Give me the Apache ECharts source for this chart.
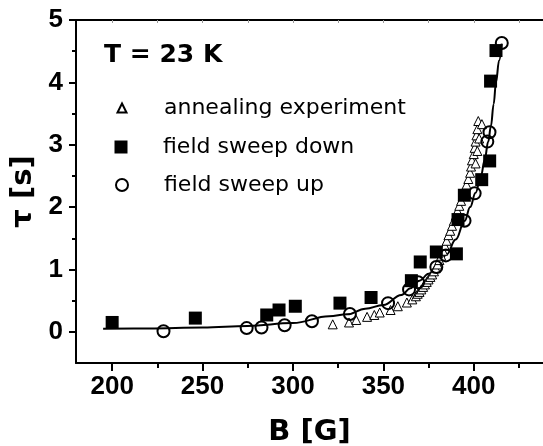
<!DOCTYPE html>
<html>
<head>
<meta charset="utf-8">
<script src="https://cdn.jsdelivr.net/npm/echarts@6/dist/echarts.min.js"></script>
<style>html,body{margin:0;padding:0;background:#fff;}#c{width:543px;height:446px;}</style>
</head>
<body>
<div id="c"></div>
<script>
// ---- data ----
const annB   = [322,331,335,341,345,348,354,358,363,366,368,369,370,371,372,373,374,375,376,377,378,379,380,381,382,383,384,385,386,387,388,389,390,391,392,393,394,395,396,397,398,398.5,399,400,400.5,401,401.5,402,402.5,404.5,403,402,401];
const annTau = [0.12,0.15,0.19,0.24,0.27,0.31,0.35,0.41,0.47,0.52,0.57,0.61,0.64,0.68,0.72,0.76,0.80,0.84,0.88,0.92,0.97,1.02,1.08,1.15,1.22,1.30,1.38,1.46,1.55,1.62,1.70,1.78,1.86,1.94,2.02,2.10,2.18,2.27,2.36,2.45,2.55,2.65,2.75,2.85,2.95,3.05,3.15,3.25,3.38,3.33,3.10,2.90,2.70];
const downB   = [200,246,285.5,292.3,301.3,326,343.2,365.5,370.4,379.3,390.4,391.3,394.8,404.4,408.8,409.3,412.3];
const downTau = [0.15,0.22,0.27,0.35,0.41,0.46,0.55,0.82,1.12,1.28,1.25,1.80,2.19,2.44,2.74,4.02,4.51];
const upB   = [228.4,274.4,282.6,295.4,310.5,331.5,352.6,364.2,369.2,379.3,384.6,394.9,400.5,407.5,408.7,415.5];
const upTau = [0.01,0.06,0.07,0.105,0.17,0.285,0.46,0.68,0.795,1.04,1.225,1.78,2.22,3.05,3.2,4.63];
const fitB   = [195,220,250,275,300,320,330,340,350,360,365,370,375,380,385,390,395,398,401,404,406,408,409.5,411,412.3,414,415.5];
const fitTau = [0.05,0.055,0.07,0.095,0.14,0.25,0.28,0.37,0.43,0.59,0.70,0.82,0.93,1.07,1.24,1.48,1.78,2.0,2.23,2.5,2.75,3.05,3.3,3.65,4.0,4.35,4.62];
const xMajor = [200,250,300,350,400];
const xLabels = [200,250,300,350,400];
const xMinor = [225,275,325,375,425];
const xTop = [200,225,250,275,300,325,350,375,400,425];
const yMajor = [0,1,2,3,4,5];
const yMinor = [0.5,1.5,2.5,3.5,4.5];
const names = ['annealing experiment','field sweep down','field sweep up'];
const xMin = 180, xMax = 438.3, yMin = -0.5, yMax = 5;

const zip = (a,b) => a.map((v,i)=>[v,b[i]]);
const tickFont = {fontFamily:'Liberation Sans', fontWeight:'bold', fontSize:26, color:'#000'};
const nameFont = {fontFamily:'DejaVu Sans', fontWeight:'bold', fontSize:29, color:'#000'};
const legText = {fontFamily:'DejaVu Sans', fontSize:22, color:'#000'};

function legendAt(name, size, top, left, pad){
  return {data:[name], orient:'vertical', left:left, top:top, itemWidth:size, itemHeight:size,
    selectedMode:false, padding:0, textStyle:Object.assign({}, legText, {padding:[0,0,0,pad]})};
}

const chart = echarts.init(document.getElementById('c'), null, {renderer:'canvas'});
chart.setOption({
  animation:false,
  backgroundColor:'#fff',
  title:{text:'T = 23 K', left:104, top:43, padding:0,
    textStyle:{fontFamily:'DejaVu Sans', fontWeight:'bold', fontSize:25, color:'#000'}},
  legend:[
    legendAt(names[0], 9, 97, 116.5, 32.5),
    legendAt(names[1], 13, 136, 114.5, 30.5),
    legendAt(names[2], 12, 174, 115, 31)
  ],
  grid:{left:76, top:20, right:0, height:343, containLabel:false, outerBoundsMode:'none'},
  xAxis:[
    {type:'value', min:xMin, max:xMax, position:'bottom',
     name:'B [G]', nameLocation:'middle', nameGap:55, nameTextStyle:nameFont,
     axisLine:{show:true, onZero:false, lineStyle:{color:'#000', width:2}},
     axisTick:{show:true, customValues:xMajor, length:8, lineStyle:{color:'#000', width:2}},
     axisLabel:{customValues:xLabels, margin:11, ...tickFont},
     splitLine:{show:false}},
    {type:'value', min:xMin, max:xMax, position:'bottom',
     axisLine:{show:false, onZero:false}, axisLabel:{show:false}, splitLine:{show:false},
     axisTick:{show:true, customValues:xMinor, length:5, lineStyle:{color:'#000', width:2}}},
    {type:'value', min:xMin, max:xMax, position:'top',
     axisLine:{show:true, onZero:false, lineStyle:{color:'#000', width:2}}, axisLabel:{show:false}, splitLine:{show:false},
     axisTick:{show:true, inside:true, customValues:xTop, length:3, lineStyle:{color:'#999', width:1}}}
  ],
  yAxis:[
    {type:'value', min:yMin, max:yMax, position:'left',
     name:'τ [s]', nameLocation:'middle', nameGap:36, nameRotate:90, nameTextStyle:nameFont,
     axisLine:{show:true, onZero:false, lineStyle:{color:'#000', width:2}},
     axisTick:{show:true, customValues:yMajor, length:7, lineStyle:{color:'#000', width:2}},
     axisLabel:{customValues:yMajor, margin:13, ...tickFont},
     splitLine:{show:false}},
    {type:'value', min:yMin, max:yMax, position:'left',
     axisLine:{show:false, onZero:false}, axisLabel:{show:false}, splitLine:{show:false},
     axisTick:{show:true, customValues:yMinor, length:4, lineStyle:{color:'#000', width:2}}}
  ],
  series:[
    {name:names[0], type:'scatter', xAxisIndex:0, yAxisIndex:0, data:zip(annB, annTau),
     symbol:'triangle', symbolSize:9, itemStyle:{color:'#fff', borderColor:'#000', borderWidth:1, opacity:1}},
    {name:names[1], type:'scatter', xAxisIndex:0, yAxisIndex:0, data:zip(downB, downTau),
     symbol:'rect', symbolSize:13, itemStyle:{color:'#000', borderColor:'#000', borderWidth:0, opacity:1}},
    {name:names[2], type:'scatter', xAxisIndex:0, yAxisIndex:0, data:zip(upB, upTau),
     symbol:'circle', symbolSize:12, itemStyle:{color:'rgba(255,255,255,0)', borderColor:'#000', borderWidth:2, opacity:1}},
    {name:'fit', type:'line', xAxisIndex:0, yAxisIndex:0, data:zip(fitB, fitTau),
     smooth:0.4, smoothMonotone:'x', symbol:'none', lineStyle:{color:'#000', width:2}, z:1}
  ]
});
</script>
</body>
</html>
